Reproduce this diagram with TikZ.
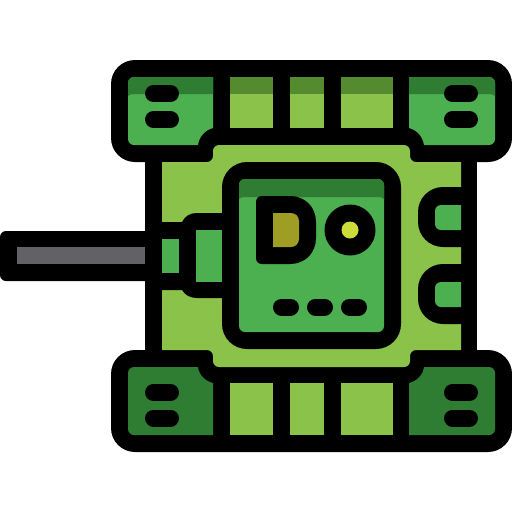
\documentclass[tikz,border=0pt]{standalone}
\usepackage{tikz}

\definecolor{lightleaf}{HTML}{8BC34A}
\definecolor{leaf}{HTML}{4CAF50}
\definecolor{darkleaf}{HTML}{2E7D32}
\definecolor{oliveband}{HTML}{558B2F}
\definecolor{barrelgray}{HTML}{616166}
\definecolor{hatchgold}{HTML}{9E9D24}
\definecolor{lampyellow}{HTML}{CDDC39}

\tikzset{
  outline/.style={fill=black},
  softcorner/.style={rounded corners=6pt},
  slot/.style={line width=17pt, line cap=round, black}
}

\begin{document}
\begin{tikzpicture}[x=1pt, y=-1pt]
      \useasboundingbox (0, 0) rectangle (512, 512);

      % Black silhouette: tracks, hull, barrel
      \fill[outline, rounded corners=24pt] (111, 60) rectangle (512, 162);
      \fill[outline, rounded corners=24pt] (111, 350) rectangle (512, 452);
      \fill[outline] (145, 140) rectangle (477, 370);
      \fill[outline, softcorner] (150, 231) -- (0, 231) -- (0, 281) -- (150, 281);

      % Hull plate
      \fill[lightleaf] (162, 162) [rounded corners=6pt] -- (213, 162) -- (213, 145) -- (410, 145)
        -- (410, 162) [sharp corners] -- (461, 162) -- (461, 350) [rounded corners=6pt] -- (410, 350)
        -- (410, 367) -- (213, 367) -- (213, 350) [sharp corners] -- (162, 350) -- cycle;

      % Top track: corner blocks
      \fill[leaf] (213, 77) [rounded corners=6pt] -- (128, 77) -- (128, 145) [sharp corners] -- (198, 145)
        .. controls (199, 137) and (205, 130) .. (213, 128) -- cycle;
      \fill[leaf] (409, 77) [rounded corners=6pt] -- (495, 77) -- (495, 145) [sharp corners] -- (424, 145)
        .. controls (423, 137) and (417, 130) .. (409, 128) -- cycle;
      \fill[darkleaf] (213, 77) [rounded corners=6pt] -- (128, 77) [sharp corners] -- (128, 96)
        .. controls (129, 94.5) and (131, 94) .. (137, 94) -- (213, 94) -- cycle;
      \fill[darkleaf] (409, 77) [rounded corners=6pt] -- (495, 77) [sharp corners] -- (495, 96)
        .. controls (494, 94.5) and (492, 94) .. (486, 94) -- (409, 94) -- cycle;

      % Top track: links
      \foreach \xa/\xb in {230/273, 290/324, 341/393} {
        \fill[lightleaf] (\xa, 77) rectangle (\xb, 128);
        \fill[oliveband] (\xa, 77) rectangle (\xb, 94);
      }

      % Bottom track: corner blocks
      \fill[darkleaf] (213, 435) [rounded corners=6pt] -- (128, 435) -- (128, 367) [sharp corners] -- (198, 367)
        .. controls (199, 375) and (205, 381) .. (213, 383) -- cycle;
      \fill[darkleaf] (409, 435) [rounded corners=6pt] -- (495, 435) -- (495, 367) [sharp corners] -- (424, 367)
        .. controls (423, 375) and (417, 381) .. (409, 383) -- cycle;

      % Bottom track: links
      \foreach \xa/\xb in {230/273, 290/324, 341/393} {
        \fill[lightleaf] (\xa, 383) rectangle (\xb, 435);
      }

      % Track slots
      \foreach \xa in {153.5, 452.5} {
        \foreach \ya in {93.5, 119.5, 392.5, 418} {
          \draw[slot] (\xa, \ya) -- (\xa + 17, \ya);
        }
      }

      % Barrel, neck and mantlet
      \fill[barrelgray] (17, 247) rectangle (145, 264);
      \fill[outline] (162, 222) -- (182, 222) .. controls (185, 216) and (190, 213) .. (197, 213)
        -- (230, 213) -- (230, 298) -- (197, 298) .. controls (190, 298) and (185, 295) .. (182, 290)
        -- (162, 290) -- cycle;
      \fill[leaf] (162, 239) rectangle (179, 273);
      \fill[leaf] (196, 230) rectangle (224, 282);

      % Side bumps
      \foreach \ya in {187, 264} {
        \fill[outline, rounded corners=25pt] (470, \ya) -- (418, \ya) -- (418, \ya + 60) -- (470, \ya + 60);
        \fill[leaf, rounded corners=6pt] (461, \ya + 18) -- (435, \ya + 18) -- (435, \ya + 43) -- (461, \ya + 43);
      }

      % Turret
      \fill[outline, rounded corners=25pt] (222, 162) rectangle (401, 349);
      \fill[leaf, softcorner] (239, 179) rectangle (384, 332);
      \fill[darkleaf] (239, 199) [rounded corners=6pt] -- (239, 179) -- (384, 179) [sharp corners] -- (384, 199)
        .. controls (383, 197.5) and (381, 197) .. (375, 197) -- (248, 197) .. controls (242, 197) and (240, 197.5) .. (239, 199) -- cycle;

      % Hatch
      \fill[outline] (262, 196) -- (290, 196) .. controls (305, 196) and (316, 207) .. (316, 222)
        -- (316, 238) .. controls (316, 253) and (305, 264) .. (290, 264) -- (262, 264)
        .. controls (258.5, 264) and (256, 261.5) .. (256, 258) -- (256, 202) .. controls (256, 198.5) and (258.5, 196) .. (262, 196) -- cycle;
      \fill[hatchgold] (273, 213) [rounded corners=8pt] -- (299, 213) -- (299, 247) [sharp corners] -- (273, 247) -- cycle;

      % Lamp
      \fill[outline] (350, 230) circle (25.5);
      \fill[lampyellow] (350, 230) circle (8.5);

      % Turret slots
      \foreach \xa in {281.5, 315.5, 349.5} {
        \draw[slot] (\xa, 307) -- (\xa + 9, 307);
      }

  \end{tikzpicture}
\end{document}
